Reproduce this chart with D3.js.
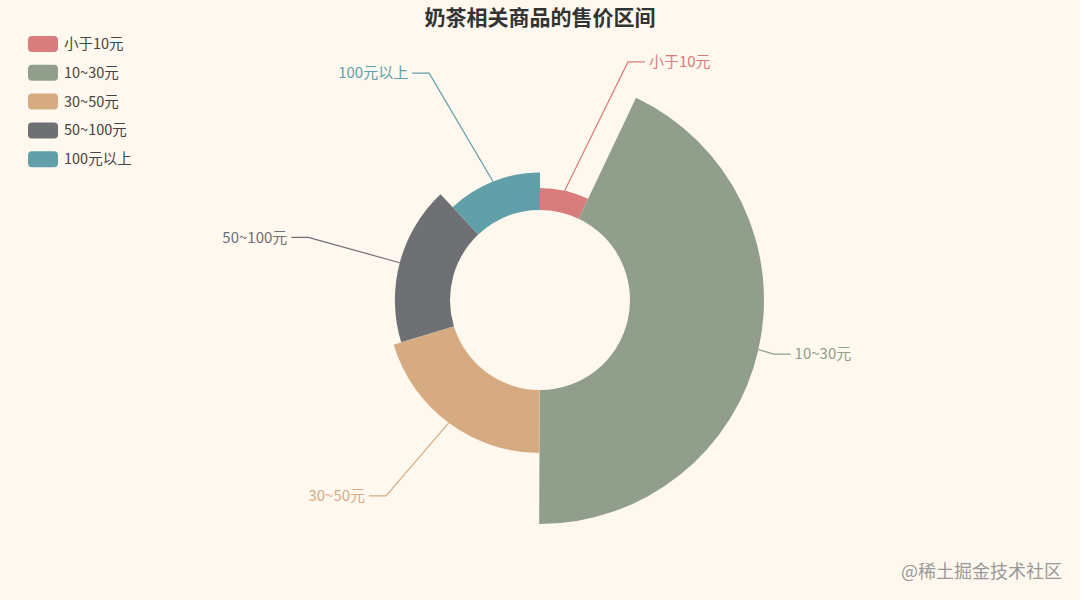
<!DOCTYPE html>
<html>
<head>
<meta charset="utf-8">
<script src="https://cdn.jsdelivr.net/npm/d3@7"></script>
<style>
  body { margin: 0; background: #fef8ef; }
  svg { display: block; font-family: "Noto Sans CJK SC", "Noto Sans", sans-serif; }
</style>
</head>
<body>
<svg id="chart" width="1080" height="600"></svg>
<script>
const title = "奶茶相关商品的售价区间";
const categories = ["小于10元", "10~30元", "30~50元", "50~100元", "100元以上"];
const counts = [61, 372, 175, 153, 104];
const colors = ["#d87c7c", "#919e8b", "#d7ab82", "#6e7074", "#61a0a8"];
const watermark = "@稀土掘金技术社区";

function Config() {
    this.w = 1080;
    this.h = 600;
    this.cx = 540;
    this.cy = 300;
    this.inner = 90;
    this.outer = 224;
    // label line: first leg ends near outer + len, second leg is len2 long
    this.len = 15;
    this.lenY = 20;
    this.len2 = 17;
    this.rB = 256;
    this.rScale = d3.scaleLinear()
        .domain([0, d3.max(counts)])
        .range([this.inner, this.outer]);
    this.color = d3.scaleOrdinal().domain(categories).range(colors);
}

const cfg = new Config();
const svg = d3.select("#chart");

svg.append("rect")
    .attr("width", cfg.w)
    .attr("height", cfg.h)
    .attr("fill", "#fef8ef");

svg.append("text")
    .attr("x", cfg.cx)
    .attr("y", 25)
    .attr("text-anchor", "middle")
    .attr("font-size", 21)
    .attr("font-weight", "bold")
    .attr("fill", "#333")
    .text(title);

const data = categories.map((c, i) => ({name: c, value: counts[i]}));
const pie = d3.pie().sort(null).value(d => d.value);
const arcs = pie(data);

const arc = d3.arc()
    .innerRadius(cfg.inner)
    .outerRadius(d => cfg.rScale(d.data.value));

const chart = svg.append("g")
    .attr("transform", `translate(${cfg.cx}, ${cfg.cy})`);

chart.selectAll(".slice")
    .data(arcs)
    .enter().append("path")
    .attr("class", "slice")
    .attr("d", arc)
    .attr("fill", d => cfg.color(d.data.name));

// label positions: start on the sector edge, bend on an ellipse around the rose
function labelLayout(d) {
    const mid = (d.startAngle + d.endAngle) / 2;
    const r = cfg.rScale(d.data.value);
    const rA = cfg.outer + cfg.len;
    const sx = r * Math.sin(mid);
    const sy = -r * Math.cos(mid);
    const by = -(cfg.outer + cfg.lenY) * Math.cos(mid);
    const dir = Math.sin(mid) >= 0 ? 1 : -1;
    const dy = Math.abs(by);
    const bx = dir * rA * Math.sqrt(Math.max(0, 1 - (dy / cfg.rB) * (dy / cfg.rB)));
    const ex = bx + dir * cfg.len2;
    return {sx, sy, bx, by, ex, dir};
}

const labels = chart.selectAll(".label")
    .data(arcs)
    .enter().append("g")
    .attr("class", "label");

labels.append("polyline")
    .attr("points", d => {
        const p = labelLayout(d);
        return [[p.sx, p.sy], [p.bx, p.by], [p.ex, p.by]].map(q => q.join(",")).join(" ");
    })
    .attr("fill", "none")
    .attr("stroke", d => cfg.color(d.data.name))
    .attr("stroke-width", 1.2);

labels.append("text")
    .attr("x", d => {
        const p = labelLayout(d);
        return p.ex + p.dir * 4;
    })
    .attr("y", d => labelLayout(d).by)
    .attr("dy", "0.35em")
    .attr("text-anchor", d => labelLayout(d).dir > 0 ? "start" : "end")
    .attr("font-size", 15)
    .attr("fill", d => cfg.color(d.data.name))
    .text(d => d.data.name);

// legend
const legend = svg.append("g")
    .attr("transform", "translate(28, 36)");

const items = legend.selectAll(".item")
    .data(categories)
    .enter().append("g")
    .attr("class", "item")
    .attr("transform", (d, i) => `translate(0, ${i * 28.8})`);

items.append("rect")
    .attr("width", 30)
    .attr("height", 16)
    .attr("rx", 4)
    .attr("fill", d => cfg.color(d));

items.append("text")
    .attr("x", 36)
    .attr("y", 8)
    .attr("dy", "0.35em")
    .attr("font-size", 14.5)
    .attr("fill", "#444")
    .text(d => d);

svg.append("text")
    .attr("x", 1062)
    .attr("y", 578)
    .attr("text-anchor", "end")
    .attr("font-size", 18)
    .attr("fill", "#999")
    .text(watermark);
</script>
</body>
</html>
